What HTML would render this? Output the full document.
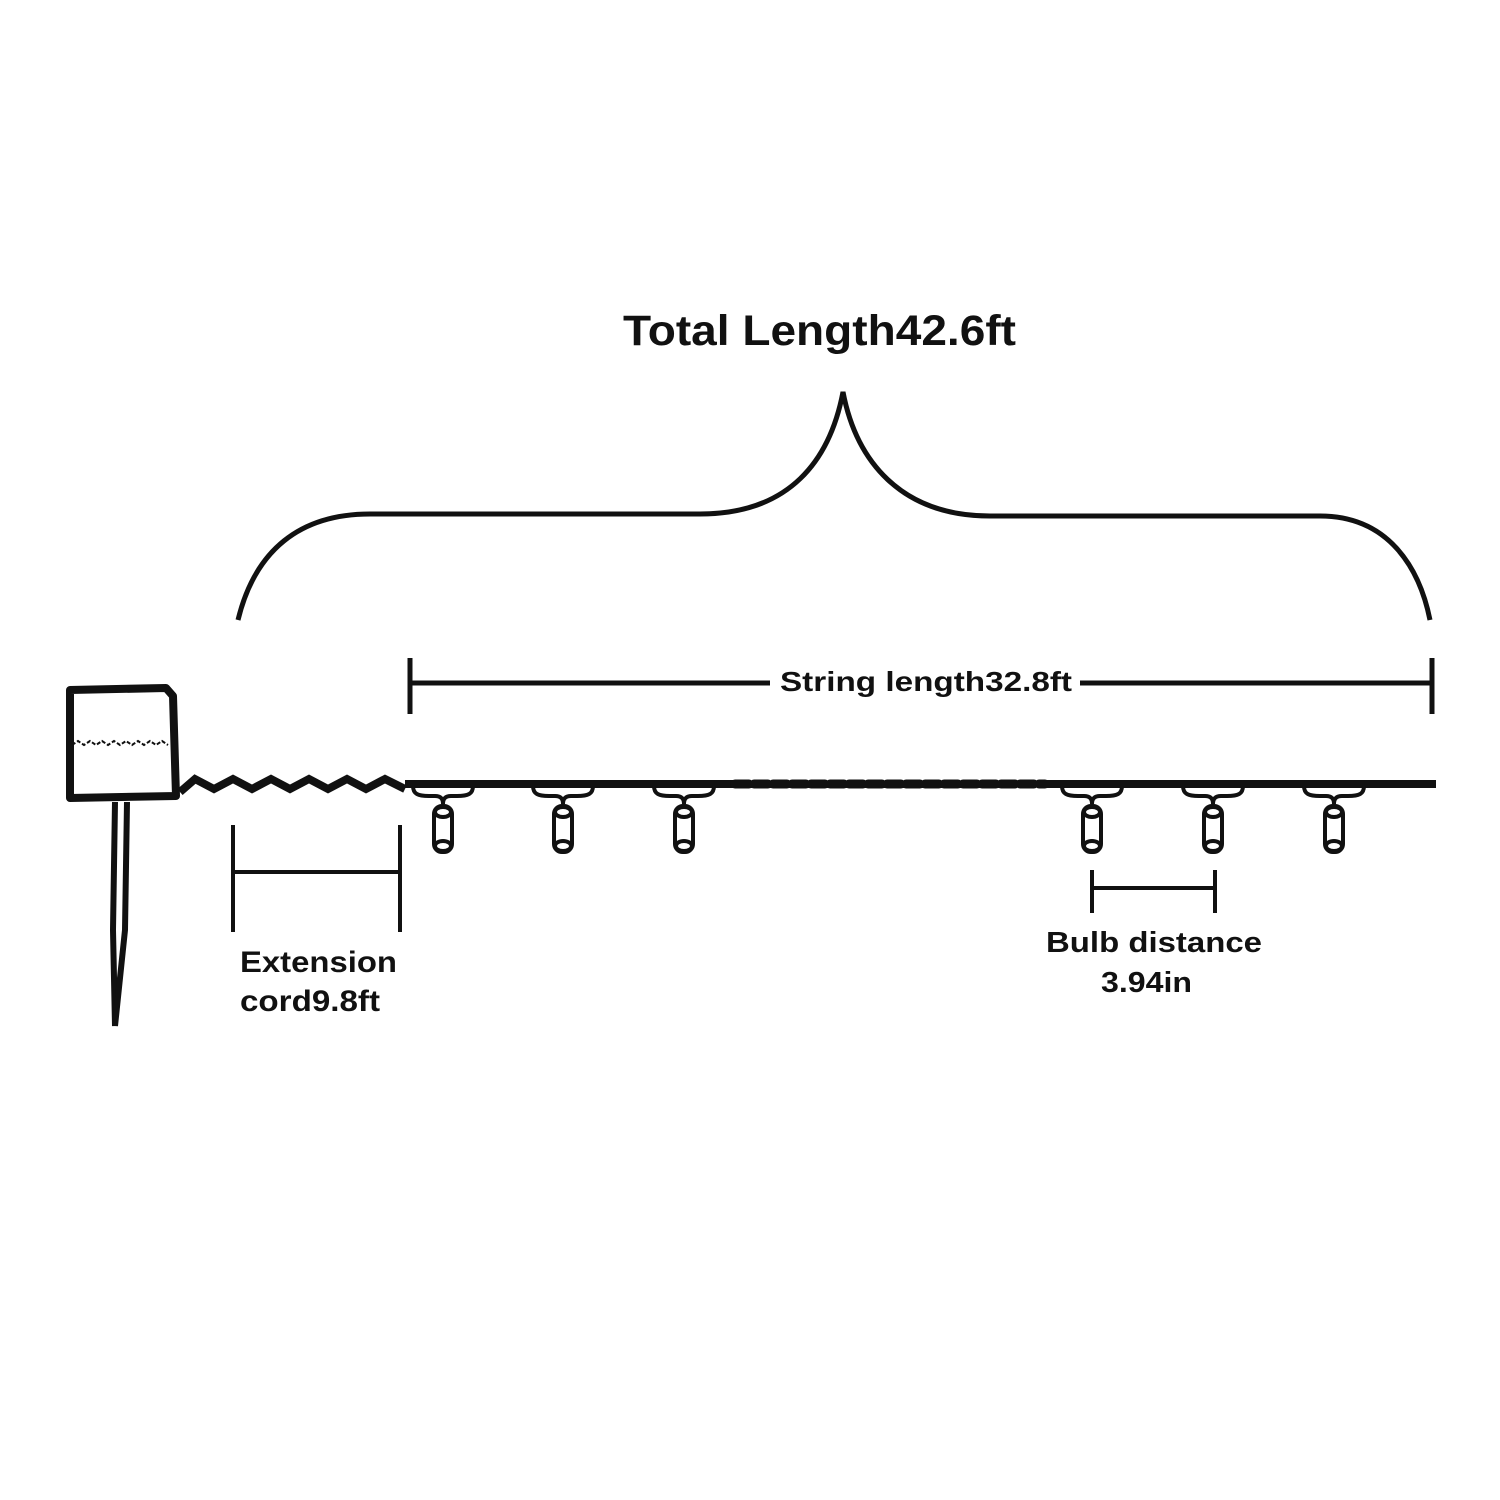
<!DOCTYPE html>
<html><head><meta charset="utf-8"><style>
html,body{margin:0;padding:0;background:#fff;}
svg{display:block;}
text{font-family:"Liberation Sans",Arial,sans-serif;font-weight:bold;fill:#111;}
</style></head><body>
<svg width="1500" height="1500" viewBox="0 0 1500 1500" xmlns="http://www.w3.org/2000/svg">
<rect width="1500" height="1500" fill="#fff"/>
<text x="623" y="345" font-size="43" textLength="393" lengthAdjust="spacingAndGlyphs">Total Length42.6ft</text>
<!-- brace -->
<path d="M238,620 C255,550 300,514 370,514 L700,514 C790,514 830,460 843,392 C856,460 900,516 990,516 L1320,516 C1390,516 1420,570 1430,620" fill="none" stroke="#111" stroke-width="5"/>
<!-- string length -->
<line x1="410" y1="658" x2="410" y2="714" stroke="#111" stroke-width="5"/>
<line x1="1432" y1="658" x2="1432" y2="714" stroke="#111" stroke-width="5"/>
<line x1="410" y1="683" x2="770" y2="683" stroke="#111" stroke-width="5"/>
<line x1="1080" y1="683" x2="1432" y2="683" stroke="#111" stroke-width="5"/>
<text x="780" y="691" font-size="28" textLength="292" lengthAdjust="spacingAndGlyphs">String length32.8ft</text>
<!-- controller box -->
<path d="M70,690 L166,688 L173,696 L176,796 L70,798 Z" fill="#fff" stroke="#111" stroke-width="8" stroke-linejoin="round"/>
<path d="M72,745 l6,-4 l6,4 l6,-4 l6,4 l6,-4 l6,4 l6,-4 l6,4 l6,-4 l6,4 l6,-4 l6,4 l6,-4 l6,4 l6,-4 l6,4" fill="none" stroke="#111" stroke-width="2" stroke-dasharray="4,2"/>
<!-- stake -->
<path d="M115,802 L113,930 L115,1026" fill="none" stroke="#111" stroke-width="6" stroke-linejoin="round"/>
<path d="M127,802 L125,930 L115,1026" fill="none" stroke="#111" stroke-width="6" stroke-linejoin="round"/>
<!-- zigzag cord -->
<path d="M180,792 L195,779 L214,789 L233,779 L252,789 L271,779 L290,789 L309,779 L328,789 L347,779 L366,789 L385,779 L405,789" fill="none" stroke="#111" stroke-width="8"/>
<!-- main wire -->
<line x1="405" y1="784" x2="735" y2="784" stroke="#111" stroke-width="8"/>
<line x1="735" y1="784" x2="1045" y2="784" stroke="#111" stroke-width="9" stroke-dasharray="14,5" stroke-linecap="round"/>
<line x1="1045" y1="784" x2="1436" y2="784" stroke="#111" stroke-width="8"/>
<!-- bulbs -->
<g fill="none" stroke="#111" stroke-width="4">
<g id="b" transform="translate(443,0)">
<path d="M-30,786 C-30,794 -25,796 -14,796 L-8,796 C-2,796 0,799 0,804 C0,799 2,796 8,796 L14,796 C25,796 30,794 30,786"/>
<rect x="-9" y="806" width="18" height="46" rx="8" fill="#fff"/>
<ellipse cx="0" cy="812" rx="8" ry="5"/>
<ellipse cx="0" cy="846" rx="8" ry="5"/>
</g>
<use href="#b" x="120"/>
<use href="#b" x="241"/>
<use href="#b" x="649"/>
<use href="#b" x="770"/>
<use href="#b" x="891"/>
</g>
<!-- extension dims -->
<line x1="233" y1="825" x2="233" y2="932" stroke="#111" stroke-width="4"/>
<line x1="400" y1="825" x2="400" y2="932" stroke="#111" stroke-width="4"/>
<line x1="233" y1="872" x2="400" y2="872" stroke="#111" stroke-width="4"/>
<text x="240" y="972" font-size="30" textLength="157" lengthAdjust="spacingAndGlyphs">Extension</text>
<text x="240" y="1011" font-size="30" textLength="140" lengthAdjust="spacingAndGlyphs">cord9.8ft</text>
<!-- bulb distance -->
<line x1="1092" y1="870" x2="1092" y2="913" stroke="#111" stroke-width="4"/>
<line x1="1215" y1="870" x2="1215" y2="913" stroke="#111" stroke-width="4"/>
<line x1="1092" y1="888" x2="1215" y2="888" stroke="#111" stroke-width="4"/>
<text x="1046" y="952" font-size="29" textLength="216" lengthAdjust="spacingAndGlyphs">Bulb distance</text>
<text x="1101" y="992" font-size="29" textLength="91" lengthAdjust="spacingAndGlyphs">3.94in</text>
</svg>
</body></html>
